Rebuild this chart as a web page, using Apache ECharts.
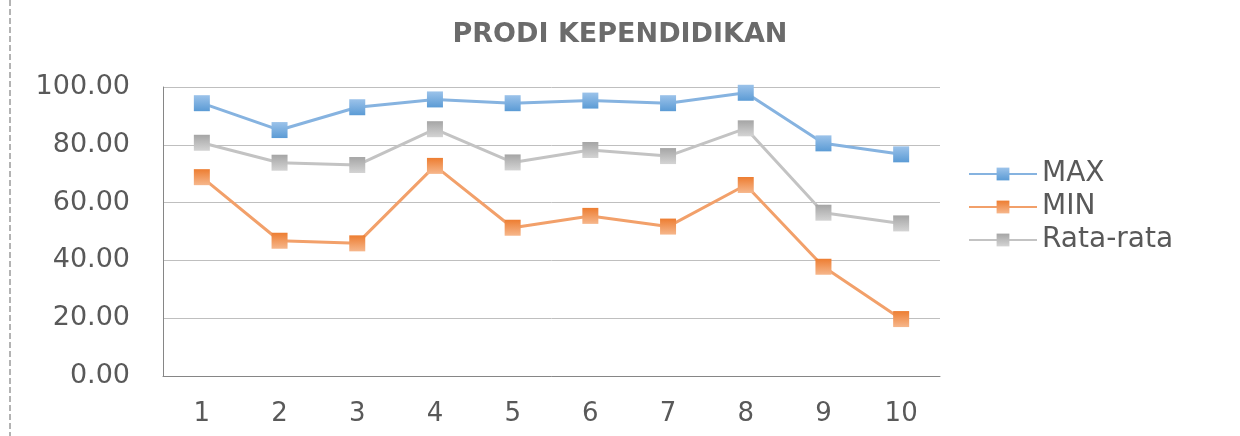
<!DOCTYPE html>
<html><head><meta charset="utf-8">
<script src="https://cdn.jsdelivr.net/npm/echarts@6/dist/echarts.min.js"></script>
<style>html,body{margin:0;padding:0;background:#fff}#c{width:1240px;height:436px}</style>
</head><body><div id="c"></div>
<script>
const categories = ['1','2','3','4','5','6','7','8','9','10'];
const maxValues  = [94.4, 85.1, 93.0, 95.7, 94.4, 95.3, 94.4, 98.0, 80.5, 76.7];
const minValues  = [68.8, 46.8, 45.9, 72.7, 51.3, 55.4, 51.7, 66.1, 37.8, 19.7];
const avgValues  = [80.7, 73.8, 73.0, 85.4, 73.9, 78.2, 76.1, 85.7, 56.5, 52.8];
const seriesNames = ['MAX', 'MIN', 'Rata-rata'];
const titleText = 'PRODI KEPENDIDIKAN';

const FONT = 'DejaVu Sans';
function grad(top, bottom){
  return new echarts.graphic.LinearGradient(0,0,0,1,[{offset:0,color:top},{offset:1,color:bottom}]);
}
function mk(name, data, line, mTop, mBot){
  return {
    name, type:'line', data,
    symbol:'rect', symbolSize:16,
    lineStyle:{color:line, width:3},
    itemStyle:{color:grad(mTop,mBot), borderWidth:0},
    emphasis:{disabled:true}
  };
}
const chart = echarts.init(document.getElementById('c'));
chart.setOption({
  animation:false,
  backgroundColor:'#fff',
  title:{text:titleText,left:'center',top:16,
    textStyle:{fontFamily:FONT,fontSize:27,fontWeight:'bold',color:'#6b6b6b'}},
  grid:{left:163,right:300,top:87,bottom:60,containLabel:false},
  legend:{orient:'vertical',left:963,top:154,itemWidth:68,itemHeight:16,itemGap:3,
    data:seriesNames,
    textStyle:{fontFamily:FONT,fontSize:28,color:'#595959',lineHeight:30}},
  xAxis:{type:'category',data:categories,boundaryGap:true,
    axisLine:{lineStyle:{color:'#868686',width:1}},
    axisTick:{show:false},
    axisLabel:{fontFamily:FONT,fontSize:26,color:'#595959',margin:25}},
  yAxis:{type:'value',min:0,max:100,interval:20,
    axisLine:{show:true,lineStyle:{color:'#868686',width:1}},
    axisTick:{show:false},
    splitLine:{lineStyle:{color:'#bfbfbf',width:1}},
    axisLabel:{fontFamily:FONT,fontSize:27,color:'#595959',margin:33,
      formatter:v=>v.toFixed(2)}},
  graphic:[{type:'line',shape:{x1:10,y1:0,x2:10,y2:436},
    style:{stroke:'#9a9a9a',lineWidth:1.5,lineDash:[6,3]}}],
  series:[
    mk(seriesNames[0], maxValues, '#86b3e0', '#9cc3ea', '#5b9bd5'),
    mk(seriesNames[1], minValues, '#f2a06a', '#ed7d31', '#f6b78c'),
    mk(seriesNames[2], avgValues, '#c3c3c3', '#a5a5a5', '#d4d4d4')
  ]
});
</script></body></html>
